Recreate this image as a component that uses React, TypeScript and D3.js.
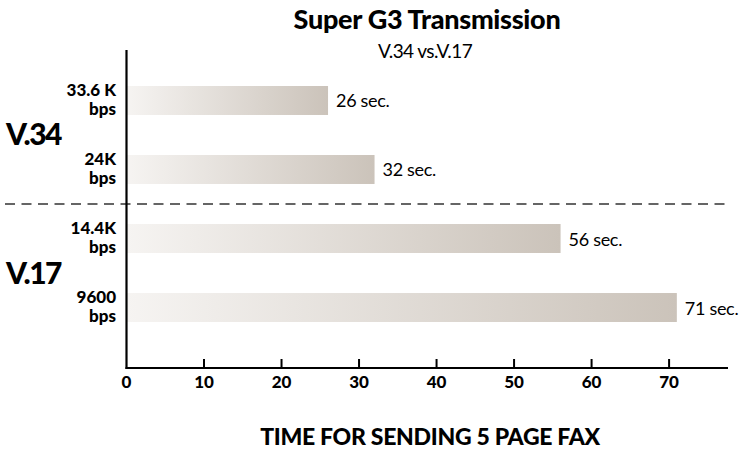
import React from "react";
import * as d3 from "d3";

const rates = ["33.6 K", "24K", "14.4K", "9600"];
const seconds = [26, 32, 56, 71];
const groups = [
  { name: "V.34", members: ["33.6 K", "24K"] },
  { name: "V.17", members: ["14.4K", "9600"] },
];
const ticks = [0, 10, 20, 30, 40, 50, 60, 70];

const W = 740;
const H = 449;
const FONT = "Lato, 'Open Sans', sans-serif";

const App = () => {
  const x = d3.scaleLinear().domain([0, 77.6]).range([126.5, 728]);
  const y = d3
    .scaleBand<string>()
    .domain(rates)
    .range([51.5, 356.5])
    .paddingInner(0.58)
    .paddingOuter(0.5);
  const axisY = 368;

  // dashed split sits halfway between the two groups
  const splitY = (y("24K")! + y.bandwidth() + y("14.4K")!) / 2;

  return (
    <svg
      width={W}
      height={H}
      style={{ position: "absolute", left: 0, top: 0, background: "#fff" }}
      fontFamily={FONT}
    >
      <defs>
        <linearGradient id="barFill" x1="0" x2="1" y1="0" y2="0">
          <stop offset="0%" stopColor="#f6f4f2" />
          <stop offset="100%" stopColor="#cbc3ba" />
        </linearGradient>
      </defs>

      <text x={427} y={29} textAnchor="middle" fontSize={27} fontWeight={900} fill="#000" letterSpacing={-0.3}>
        Super G3 Transmission
      </text>
      <text x={425} y={58} textAnchor="middle" fontSize={19} fill="#000" letterSpacing={-0.6}>
        V.34 vs.V.17
      </text>

      {rates.map((r, i) => {
        const top = y(r)!;
        const mid = top + y.bandwidth() / 2;
        return (
          <g key={r}>
            <rect
              x={x(0)}
              y={top}
              width={x(seconds[i]) - x(0)}
              height={y.bandwidth()}
              fill="url(#barFill)"
            />
            <text x={x(seconds[i]) + 8} y={mid + 7} fontSize={18} fill="#000" letterSpacing={-0.3}>
              {seconds[i]} sec.
            </text>
            <text x={116} y={mid - 4.5} textAnchor="end" fontSize={17} fontWeight={900} fill="#000">
              {r}
            </text>
            <text x={116} y={mid + 14.5} textAnchor="end" fontSize={17} fontWeight={900} fill="#000">
              bps
            </text>
          </g>
        );
      })}

      {groups.map((g) => {
        const a = y(g.members[0])! + y.bandwidth() / 2;
        const b = y(g.members[1])! + y.bandwidth() / 2;
        return (
          <text key={g.name} x={6} y={(a + b) / 2 + 10.5} fontSize={30} fontWeight={900} fill="#000" letterSpacing={-1.5}>
            {g.name}
          </text>
        );
      })}

      <line x1={5} x2={725} y1={splitY} y2={splitY} stroke="#333" strokeWidth={1.4} strokeDasharray="10,6.5" />

      {/* axes */}
      <line x1={x(0)} x2={x(0)} y1={50} y2={axisY + 1} stroke="#000" strokeWidth={2.2} />
      <line x1={x(0) - 1} x2={728} y1={axisY} y2={axisY} stroke="#000" strokeWidth={2.2} />
      {ticks.map((t) => (
        <g key={t}>
          {t > 0 && <line x1={x(t)} x2={x(t)} y1={axisY - 9} y2={axisY} stroke="#000" strokeWidth={2} />}
          <text x={x(t)} y={388} textAnchor="middle" fontSize={17} fontWeight={900} fill="#000">
            {t}
          </text>
        </g>
      ))}

      <text x={430} y={445} textAnchor="middle" fontSize={23} fontWeight={900} fill="#000" letterSpacing={-0.3}>
        TIME FOR SENDING 5 PAGE FAX
      </text>
    </svg>
  );
};

export default App;
